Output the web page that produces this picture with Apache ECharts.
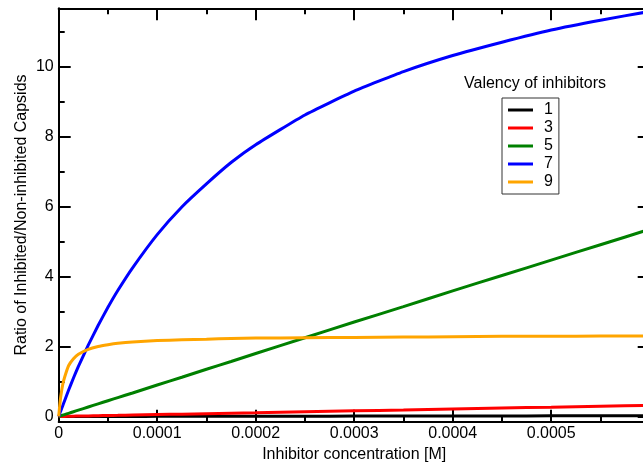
<!DOCTYPE html>
<html>
<head>
<meta charset="utf-8">
<script src="https://cdn.jsdelivr.net/npm/echarts@6/dist/echarts.min.js"></script>
<style>
  html, body { margin: 0; padding: 0; background: #fff; }
  #chart { width: 643px; height: 464px; }
</style>
</head>
<body>
<div id="chart"></div>
<script>
// inhibitor concentration [M]
var conc = [0, 0.000001, 0.000002, 0.000004, 0.000006, 0.00001, 0.000015, 0.00002, 0.00003, 0.00004, 0.00005,
    0.00006, 0.000075, 0.0001, 0.000125, 0.00015, 0.000175, 0.0002, 0.00025, 0.0003, 0.00035, 0.0004,
    0.00045, 0.0005, 0.00055, 0.0006];

// ratio for each valency
var val1 = [0, 0, 0, 0, 0, 0, 0, 0, 0, 0, 0, 0, 0, 0.003, 0.004, 0.005, 0.006, 0.007, 0.008, 0.01, 0.012, 0.013, 0.015, 0.017, 0.018, 0.02];
var val3 = [0, 0, 0, 0, 0, 0.005, 0.008, 0.011, 0.016, 0.021, 0.027, 0.032, 0.04, 0.053, 0.066, 0.08, 0.093, 0.106, 0.133, 0.16, 0.186, 0.213, 0.24, 0.266, 0.293, 0.32];
var val5 = [0, 0.009, 0.018, 0.036, 0.054, 0.09, 0.135, 0.18, 0.27, 0.36, 0.45, 0.54, 0.67, 0.9, 1.12, 1.35, 1.57, 1.8, 2.25, 2.7, 3.14, 3.59, 4.03, 4.47, 4.91, 5.35];
var val7 = [0, 0.08, 0.15, 0.3, 0.45, 0.75, 1.1, 1.43, 2.04, 2.6, 3.12, 3.6, 4.25, 5.2, 5.99, 6.65, 7.26, 7.77, 8.62, 9.3, 9.86, 10.32, 10.7, 11.05, 11.33, 11.58];
var val9 = [0, 0.3, 0.55, 0.9, 1.12, 1.45, 1.65, 1.78, 1.92, 2.0, 2.05, 2.09, 2.13, 2.17, 2.19, 2.21, 2.23, 2.24, 2.25, 2.26, 2.27, 2.28, 2.29, 2.29, 2.3, 2.3];

var names = ['1', '3', '5', '7', '9'];
var colors = ['#000000', '#ff0000', '#008000', '#0000ff', '#ffa500'];
var yMajor = [0, 2, 4, 6, 8, 10];
var yMinor = [1, 3, 5, 7, 9, 11];

var font = "'Liberation Sans', Arial, Helvetica, sans-serif";

function pairs(ys) {
    return conc.map(function (x, i) { return [x, ys[i]]; });
}

var myChart = echarts.init(document.getElementById('chart'));

var frameLine = { show: true, onZero: false, lineStyle: { color: '#000', width: 2 } };

function xAx(pos, labels) {
    return {
        type: 'value',
        position: pos,
        min: 0,
        max: 0.0006,
        interval: 0.0001,
        axisLine: frameLine,
        axisTick: { show: true, inside: true, length: 12, lineStyle: { color: '#000', width: 2 } },
        minorTick: { show: true, splitNumber: 2, length: 6, lineStyle: { color: '#000', width: 2 } },
        splitLine: { show: false },
        axisLabel: {
            show: labels,
            margin: 4,
            color: '#000',
            fontSize: 16,
            fontFamily: font,
            formatter: function (v) {
                return v > 0.00055 ? '' : String(+v.toFixed(4));
            }
        },
        name: labels ? 'Inhibitor concentration [M]' : '',
        nameLocation: 'middle',
        nameGap: 25,
        nameMoveOverlap: false,
        nameTextStyle: { color: '#000', fontSize: 16, fontFamily: font }
    };
}

function yAx(pos, vals, len, labels, line) {
    return {
        type: 'value',
        position: pos,
        min: -0.15,
        max: 11.67,
        axisLine: line ? frameLine : { show: false, onZero: false },
        axisTick: { show: true, inside: true, length: len, customValues: vals, lineStyle: { color: '#000', width: 2 } },
        splitLine: { show: false },
        axisLabel: {
            show: labels,
            customValues: vals,
            margin: 5,
            color: '#000',
            fontSize: 16,
            fontFamily: font
        },
        name: labels ? 'Ratio of Inhibited/Non-inhibited Capsids' : '',
        nameLocation: 'middle',
        nameGap: 29,
        nameMoveOverlap: false,
        nameTextStyle: { color: '#000', fontSize: 16, fontFamily: font }
    };
}

var option = {
    animation: false,
    backgroundColor: '#fff',
    title: {
        text: 'Valency of inhibitors',
        left: 535,
        top: 76,
        textAlign: 'center',
        padding: 0,
        textStyle: { color: '#000', fontSize: 16, fontWeight: 'normal', fontFamily: font }
    },
    legend: {
        orient: 'vertical',
        left: 502,
        top: 98,
        padding: [3, 6, 3, 6],
        borderColor: '#333',
        borderWidth: 1,
        itemWidth: 25,
        itemHeight: 3,
        itemGap: 0,
        icon: 'rect',
        data: names,
        textStyle: { color: '#000', fontSize: 16, lineHeight: 18, fontFamily: font, padding: [0, 0, 0, 6] }
    },
    grid: {
        left: 58.7,
        right: -6.7,
        top: 8.3,
        bottom: 42.3,
        outerBoundsMode: 'none'
    },
    xAxis: [xAx('bottom', true), xAx('top', false)],
    yAxis: [
        yAx('left', yMajor, 12, true, true),
        yAx('left', yMinor, 6, false, false),
        yAx('right', yMajor, 12, false, true),
        yAx('right', yMinor, 6, false, false)
    ],
    series: [val1, val3, val5, val7, val9].map(function (ys, i) {
        return {
            name: names[i],
            type: 'line',
            data: pairs(ys),
            showSymbol: false,
            symbol: 'none',
            smooth: 0.15,
            color: colors[i],
            lineStyle: { color: colors[i], width: 3 }
        };
    })
};

myChart.setOption(option);
</script>
</body>
</html>
